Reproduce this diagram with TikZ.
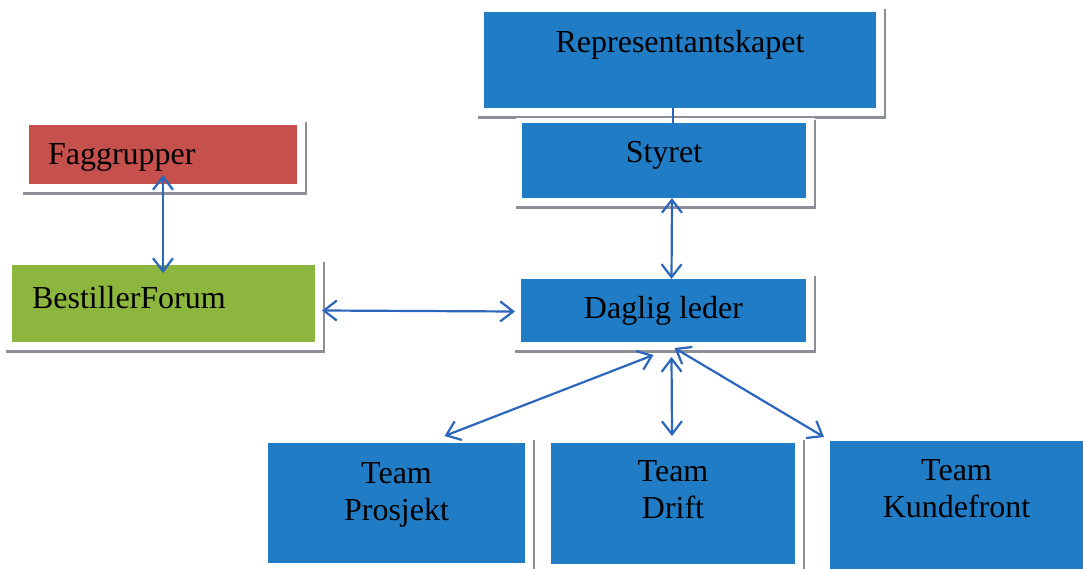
\documentclass[tikz,border=0pt]{standalone}
\usepackage{fontspec}
\setmainfont{Liberation Serif}
\usetikzlibrary{arrows.meta,backgrounds}
\definecolor{boxblue}{RGB}{33,124,198}
\definecolor{boxred}{RGB}{198,80,76}
\definecolor{boxgreen}{RGB}{140,182,62}
\definecolor{linkblue}{RGB}{44,102,188}
\definecolor{shadegray}{RGB}{140,142,152}
\begin{document}
\begin{tikzpicture}[
x=1pt,y=-1pt,
every node/.append style={font={\fontsize{32}{37}\selectfont}},
unit/.style={fill=#1,inner sep=0pt,outer sep=0pt,align=center},
unit/.default=boxblue,
group/.style={unit=#1,inner xsep=20pt,align=left},
link/.style={{Straight Barb[length=13pt,width=20pt]}-{Straight Barb[length=13pt,width=20pt]},linkblue,line width=2.2pt},
tie/.style={linkblue,line width=2.2pt},
]
\useasboundingbox (0,0) rectangle (1083,569);

\node[unit,minimum width=392pt,text height=41pt,text depth=55pt] (rep) at (680,60) {Representantskapet};
\node[unit,minimum width=284pt,text height=40pt,text depth=35pt] (styret) at (664,160.5) {Styret};
\node[group=boxred,text width=230pt,inner xsep=19pt,text height=40pt,text depth=19pt] (fag) at (163,154.5) {Faggrupper};
\node[group=boxgreen,text width=263pt,text height=43pt,text depth=34pt] (best) at (163.5,303.5) {BestillerForum};
\node[unit,minimum width=285pt,text height=39pt,text depth=24pt] (dagl) at (663.5,310.5) {Daglig leder};
\node[unit,minimum width=257pt,text height=77pt,text depth=43pt] (prosj) at (396.5,503) {Team\\Prosjekt};
\node[unit,minimum width=244pt,text height=75pt,text depth=46pt] (drift) at (673,503.5) {Team\\Drift};
\node[unit,minimum width=253pt,text height=76pt,text depth=52pt] (kunde) at (956.5,505) {Team\\Kundefront};

\begin{scope}[on background layer]
\foreach \n in {rep,styret,fag,best,dagl,prosj,drift,kunde} {
  \fill[white] ([shift={(-6,-5)}]\n.north west) rectangle ([shift={(9,8)}]\n.south east);
  \fill[shadegray] ([shift={(-6,8)}]\n.south west) rectangle ([shift={(10,11)}]\n.south east);
  \draw[shadegray,line width=1.5pt] ([shift={(9,-3)}]\n.north east) -- ([shift={(9,11)}]\n.south east);
}
\end{scope}

\draw[tie] ([xshift=9]styret.north) -- ([xshift=9]styret.north |- rep.south);
\draw[link] ([xshift=8]styret.south) -- ([xshift=8]dagl.north);
\draw[link,shorten <=-9pt,shorten >=-8pt] (fag.south) -- (fag.south |- best.north);
\draw[link] ([shift={(7,7)}]best.east) -- ([shift={(-6,1)}]dagl.west);
\draw[link] ([shift={(-10,13)}]dagl.south) -- ([shift={(48,-7)}]prosj.north);
\draw[link] ([shift={(8,15)}]dagl.south) -- ([shift={(-1,-7)}]drift.north);
\draw[link] ([shift={(11,6)}]dagl.south) -- ([shift={(-6,-4)}]kunde.north west);

\end{tikzpicture}
\end{document}
